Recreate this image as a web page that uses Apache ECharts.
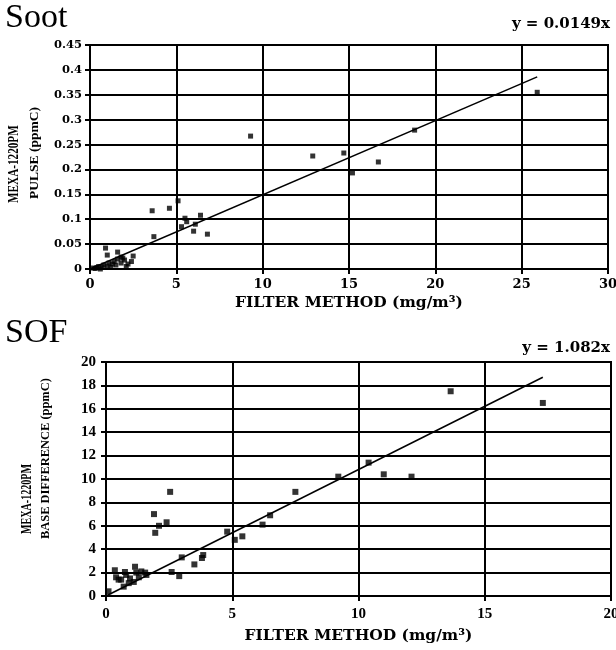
<!DOCTYPE html>
<html>
<head>
<meta charset="utf-8">
<script src="https://cdn.jsdelivr.net/npm/echarts@6/dist/echarts.min.js"></script>
<style>html,body{margin:0;padding:0;background:#fff}#c{width:616px;height:650px}</style>
</head>
<body>
<div id="c"></div>
<script>
// ---- Soot panel data ----
const sootX = [25.9, 18.8, 16.7, 15.2, 14.7, 12.9, 9.3, 5.1, 4.6, 3.6, 5.5, 6.4, 5.6, 6.1, 5.3, 6.0, 6.8, 3.7,
  0.9, 1.6, 1.0, 2.5, 1.8, 0.2, 0.3, 0.4, 0.5, 0.6, 0.7, 0.8, 1.0, 1.1, 1.2, 1.3, 1.4, 1.5, 1.6, 1.8, 1.9, 2.0, 2.1, 2.2, 2.4];
const sootY = [0.355, 0.279, 0.215, 0.193, 0.233, 0.227, 0.267, 0.137, 0.122, 0.117, 0.102, 0.108, 0.095, 0.090, 0.085, 0.076, 0.070, 0.065,
  0.042, 0.034, 0.028, 0.026, 0.024, 0.002, 0.001, 0.003, 0.005, 0.0, 0.004, 0.008, 0.006, 0.012, 0.003, 0.010, 0.015, 0.008, 0.020, 0.012, 0.022, 0.018, 0.005, 0.010, 0.015];
const sootFitX = [0, 25.9];
const sootFitY = [0, 0.386];

// ---- SOF panel data ----
const sofX = [13.65, 17.3, 10.4, 11.0, 12.1, 9.2, 7.5, 6.5, 6.2, 2.54, 1.9, 2.4, 2.1, 1.95, 4.8, 5.1, 5.4,
  3.85, 3.8, 3.5, 3.0, 2.9, 2.6, 0.1,
  0.35, 0.75, 1.15, 0.8, 0.4, 0.6, 0.95, 0.7, 1.4, 1.6, 1.3, 1.1, 0.9, 1.55, 0.5, 1.2];
const sofY = [17.5, 16.5, 11.4, 10.4, 10.2, 10.2, 8.9, 6.9, 6.1, 8.9, 7.0, 6.3, 6.0, 5.4, 5.5, 4.8, 5.1,
  3.5, 3.25, 2.7, 3.3, 1.7, 2.05, 0.4,
  2.2, 2.05, 2.5, 1.8, 1.6, 1.4, 1.5, 0.8, 2.1, 1.8, 1.6, 1.2, 1.1, 2.0, 1.4, 2.0];
const sofFitX = [0, 17.3];
const sofFitY = [0, 18.7];

const serif = 'Liberation Serif';
const wide = 'DejaVu Serif';
const toPairs = (xs, ys) => xs.map((x, i) => [x, ys[i]]);

const chart = echarts.init(document.getElementById('c'), null, {renderer: 'canvas'});

function axisCommon(extra) {
  return Object.assign({
    axisLine: {show: true, lineStyle: {color: '#000', width: 2}},
    axisTick: {show: true, inside: false, length: 5, lineStyle: {color: '#000', width: 2}},
    splitLine: {show: true, lineStyle: {color: '#000', width: 2}}
  }, extra);
}

function vText(x, y, text, size, sx) {
  return {type: 'text', x: x, y: y, rotation: Math.PI / 2, scaleX: sx, scaleY: 1,
    style: {text: text, font: 'bold ' + size + 'px "Liberation Serif"', fill: '#000', textAlign: 'left', textVerticalAlign: 'middle'}};
}

const option = {
  animation: false,
  backgroundColor: '#fff',
  grid: [
    {left: 90, top: 45, width: 518, height: 224, show: true, borderColor: '#000', borderWidth: 2, outerBoundsMode: 'none', containLabel: false},
    {left: 106, top: 362, width: 505, height: 234, show: true, borderColor: '#000', borderWidth: 2, outerBoundsMode: 'none', containLabel: false}
  ],
  xAxis: [
    axisCommon({gridIndex: 0, type: 'value', min: 0, max: 30, interval: 5,
      name: 'FILTER METHOD (mg/m³)', nameLocation: 'middle', nameGap: 26,
      nameTextStyle: {color: '#000', fontFamily: wide, fontWeight: 'bold', fontSize: 15.5},
      axisLabel: {color: '#000', fontFamily: wide, fontWeight: 'bold', fontSize: 13, margin: 9}}),
    axisCommon({gridIndex: 1, type: 'value', min: 0, max: 20, interval: 5,
      name: 'FILTER METHOD (mg/m³)', nameLocation: 'middle', nameGap: 32,
      nameTextStyle: {color: '#000', fontFamily: wide, fontWeight: 'bold', fontSize: 15.5},
      axisLabel: {color: '#000', fontFamily: serif, fontWeight: 'bold', fontSize: 15, margin: 11}})
  ],
  yAxis: [
    axisCommon({gridIndex: 0, type: 'value', min: 0, max: 0.45, interval: 0.05,
      axisLabel: {color: '#000', fontFamily: wide, fontWeight: 'bold', fontSize: 11.5, margin: 8}}),
    axisCommon({gridIndex: 1, type: 'value', min: 0, max: 20, interval: 2,
      axisLabel: {color: '#000', fontFamily: serif, fontWeight: 'bold', fontSize: 15, margin: 10}})
  ],
  graphic: [
    {type: 'text', left: 5, top: 1, style: {text: 'Soot', font: '34px "Liberation Serif"', fill: '#000'}},
    {type: 'text', right: 6, top: 17, style: {text: 'y = 0.0149x', font: 'bold 15px "DejaVu Serif"', fill: '#000'}},
    {type: 'text', left: 5, top: 316, style: {text: 'SOF', font: '34px "Liberation Serif"', fill: '#000'}},
    {type: 'text', right: 6, top: 341, style: {text: 'y = 1.082x', font: 'bold 15px "DejaVu Serif"', fill: '#000'}},
    vText(14, 203, 'MEXA-1220PM', 14, 0.8),
    vText(35, 199, 'PULSE (ppmC)', 13.5, 1),
    vText(27, 534, 'MEXA-1220PM', 14, 0.72),
    vText(46, 539, 'BASE DIFFERENCE (ppmC)', 13.5, 0.92)
  ],
  series: [
    {type: 'scatter', xAxisIndex: 0, yAxisIndex: 0, symbol: 'rect', symbolSize: 5,
      itemStyle: {color: '#000'}, data: toPairs(sootX, sootY), z: 3},
    {type: 'line', xAxisIndex: 0, yAxisIndex: 0, symbol: 'none', lineStyle: {color: '#000', width: 1.5},
      data: toPairs(sootFitX, sootFitY), z: 4},
    {type: 'scatter', xAxisIndex: 1, yAxisIndex: 1, symbol: 'rect', symbolSize: 6,
      itemStyle: {color: '#000'}, data: toPairs(sofX, sofY), z: 3},
    {type: 'line', xAxisIndex: 1, yAxisIndex: 1, symbol: 'none', lineStyle: {color: '#000', width: 1.5},
      data: toPairs(sofFitX, sofFitY), z: 4}
  ]
};
chart.setOption(option);
</script>
</body>
</html>
